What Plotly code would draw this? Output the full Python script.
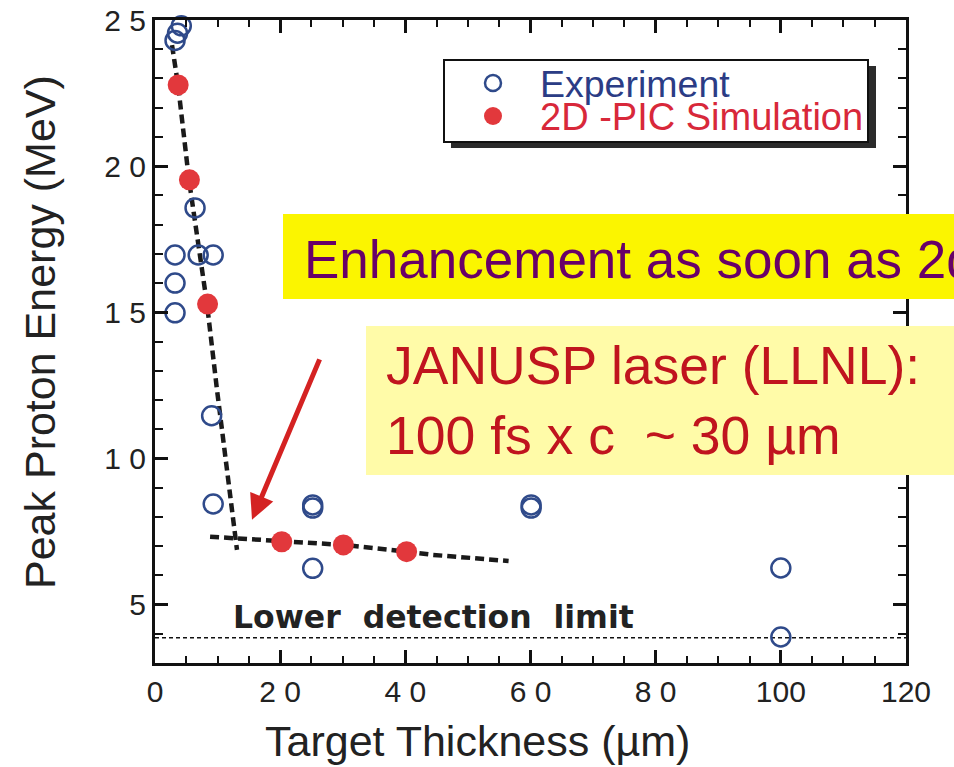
import plotly.graph_objects as go

# ---------------- data ----------------
exp_x = [3.2, 3.6, 4.2, 6.4, 3.2, 6.9, 9.3, 3.2, 3.2, 9.05, 9.3, 25.2, 25.2, 25.2, 60.1, 60.1, 100, 100]
exp_y = [24.3, 24.55, 24.8, 18.57, 16.96, 16.96, 16.96, 16.0, 14.98, 11.46, 8.44, 8.41, 8.30, 6.24, 8.41, 8.30, 6.25, 3.89]

sim_x = [3.7, 5.5, 8.4, 20.25, 30.1, 40.2]
sim_y = [22.78, 19.53, 15.28, 7.15, 7.04, 6.81]

fit_steep_x = [2.72, 3.68, 5.43, 7.03, 8.31, 9.91, 11.67, 13.1]
fit_steep_y = [24.14, 22.78, 19.53, 17.13, 15.28, 12.34, 9.16, 6.87]

fit_flat_x = [8.8, 20.25, 30.1, 40.2, 44.4, 56.5]
fit_flat_y = [7.32, 7.15, 7.04, 6.81, 6.70, 6.49]

detection_limit = 3.86
x_range = [0, 120]
y_range = [3, 25]

x_tickvals = [0, 20, 40, 60, 80, 100, 120]
x_ticktext = ["0", "2 0", "4 0", "6 0", "8 0", "100", "120"]
y_tickvals = [5, 10, 15, 20, 25]
y_ticktext = ["5", "1 0", "1 5", "2 0", "2 5"]

# ---------------- layout geometry ----------------
FW, FH = 954, 767
ML, MR, MT, MB = 155, 48, 20, 104
PW, PH = FW - ML - MR, FH - MT - MB


def px(x):
    return (x - ML) / PW


def py(y):
    return 1 - (y - MT) / PH


BLUE = "#2f4a8a"
RED = "#e2383c"

fig = go.Figure()

# detection limit line
fig.add_trace(go.Scatter(x=x_range, y=[detection_limit, detection_limit], mode="lines",
                         line=dict(color="#111", width=1.5, dash="4px,3px"),
                         showlegend=False, hoverinfo="skip"))
# fit lines
for fx, fy in [(fit_steep_x, fit_steep_y), (fit_flat_x, fit_flat_y)]:
    fig.add_trace(go.Scatter(x=fx, y=fy, mode="lines",
                             line=dict(color="#1a1a1a", width=4.5, dash="9px,5px"),
                             showlegend=False, hoverinfo="skip"))

fig.add_trace(go.Scatter(x=exp_x, y=exp_y, mode="markers", name="Experiment",
                         marker=dict(symbol="circle-open", size=19, color=BLUE,
                                     line=dict(width=2.5, color=BLUE)),
                         cliponaxis=False, showlegend=False))
fig.add_trace(go.Scatter(x=sim_x, y=sim_y, mode="markers", name="2D -PIC Simulation",
                         marker=dict(symbol="circle", size=21, color=RED, line=dict(width=0)),
                         cliponaxis=False, showlegend=False))

axis_common = dict(showline=True, linewidth=3, linecolor="#111", mirror="ticks",
                   ticks="inside", ticklen=13, tickwidth=2.5, tickcolor="#111",
                   showgrid=False, zeroline=False, automargin=False,
                   tickfont=dict(family="Liberation Sans, Arial, sans-serif", size=30, color="#222"))

fig.update_xaxes(range=x_range, tickmode="array", tickvals=x_tickvals, ticktext=x_ticktext,
                 minor=dict(dtick=5, ticks="inside", ticklen=7, tickwidth=2, tickcolor="#111"),
                 **axis_common)
fig.update_yaxes(range=y_range, tickmode="array", tickvals=y_tickvals, ticktext=y_ticktext,
                 minor=dict(dtick=1, ticks="inside", ticklen=8, tickwidth=2, tickcolor="#111"),
                 **axis_common)

shapes = []
annotations = []

# legend box with shadow
shapes.append(dict(type="rect", xref="paper", yref="paper",
                   x0=px(451), x1=px(876), y0=py(148), y1=py(66),
                   fillcolor="#2b2b2b", line=dict(width=0), layer="above"))
shapes.append(dict(type="rect", xref="paper", yref="paper",
                   x0=px(444), x1=px(868), y0=py(142), y1=py(60),
                   fillcolor="white", line=dict(color="#111", width=2), layer="above"))
# legend glyphs
shapes.append(dict(type="circle", xref="paper", yref="paper", xsizemode="pixel", ysizemode="pixel",
                   xanchor=px(493), yanchor=py(83), x0=-8, x1=8, y0=-8, y1=8,
                   line=dict(color=BLUE, width=2.5), fillcolor="rgba(0,0,0,0)", layer="above"))
shapes.append(dict(type="circle", xref="paper", yref="paper", xsizemode="pixel", ysizemode="pixel",
                   xanchor=px(493), yanchor=py(116), x0=-9, x1=9, y0=-9, y1=9,
                   line=dict(color=RED, width=0), fillcolor=RED, layer="above"))
annotations.append(dict(text="Experiment", xref="paper", yref="paper", x=px(538), y=py(84),
                        xanchor="left", yanchor="middle", showarrow=False,
                        font=dict(family="Liberation Sans, Arial, sans-serif", size=37.5, color="#2b3c85")))
annotations.append(dict(text="2D -PIC Simulation", xref="paper", yref="paper", x=px(538), y=py(117),
                        xanchor="left", yanchor="middle", showarrow=False,
                        font=dict(family="Liberation Sans, Arial, sans-serif", size=38, color="#d8283a")))

# yellow boxes
shapes.append(dict(type="rect", xref="paper", yref="paper",
                   x0=px(283), x1=px(970), y0=py(299), y1=py(214),
                   fillcolor="#fbf500", line=dict(width=0), layer="above"))
shapes.append(dict(type="rect", xref="paper", yref="paper",
                   x0=px(366), x1=px(970), y0=py(475), y1=py(326),
                   fillcolor="#fffba8", line=dict(width=0), layer="above"))

annotations.append(dict(text="Enhancement as soon as 2d", xref="paper", yref="paper",
                        x=px(302), y=py(259), xanchor="left", yanchor="middle", showarrow=False,
                        font=dict(family="Liberation Sans, Arial, sans-serif", size=53, color="#680068")))
annotations.append(dict(text="JANUSP laser (LLNL):<br>100 fs x c  ~ 30 µm", xref="paper", yref="paper",
                        x=px(384), y=py(400), xanchor="left", yanchor="middle", align="left",
                        showarrow=False,
                        font=dict(family="Liberation Sans, Arial, sans-serif", size=53.5, color="#c0141e")))

# lower detection limit label
annotations.append(dict(text="Lower\u00a0\u00a0detection\u00a0\u00a0limit", xref="paper", yref="paper",
                        x=px(433), y=py(617), xanchor="center", yanchor="middle", showarrow=False,
                        font=dict(family="DejaVu Sans, sans-serif", size=31.5, color="#222", weight="bold")))

# red arrow
annotations.append(dict(text="", x=15.5, y=7.9, ax=26.4, ay=13.44, xref="x", yref="y",
                        axref="x", ayref="y", showarrow=True, arrowhead=2, arrowsize=1,
                        arrowwidth=5, arrowcolor="#d42222", standoff=0))

# axis titles
annotations.append(dict(text="Target Thickness (µm)", xref="paper", yref="paper",
                        x=px(477), y=py(741), xanchor="center", yanchor="middle", showarrow=False,
                        font=dict(family="Liberation Sans, Arial, sans-serif", size=43, color="#222")))
annotations.append(dict(text="Peak Proton Energy (MeV)", xref="paper", yref="paper",
                        x=px(40), y=py(332), xanchor="center", yanchor="middle", showarrow=False,
                        textangle=-90,
                        font=dict(family="Liberation Sans, Arial, sans-serif", size=43, color="#222")))

fig.update_layout(width=FW, height=FH, margin=dict(l=ML, r=MR, t=MT, b=MB, autoexpand=False),
                  paper_bgcolor="white", plot_bgcolor="white",
                  shapes=shapes, annotations=annotations, showlegend=False)

fig.write_html("out.html")
